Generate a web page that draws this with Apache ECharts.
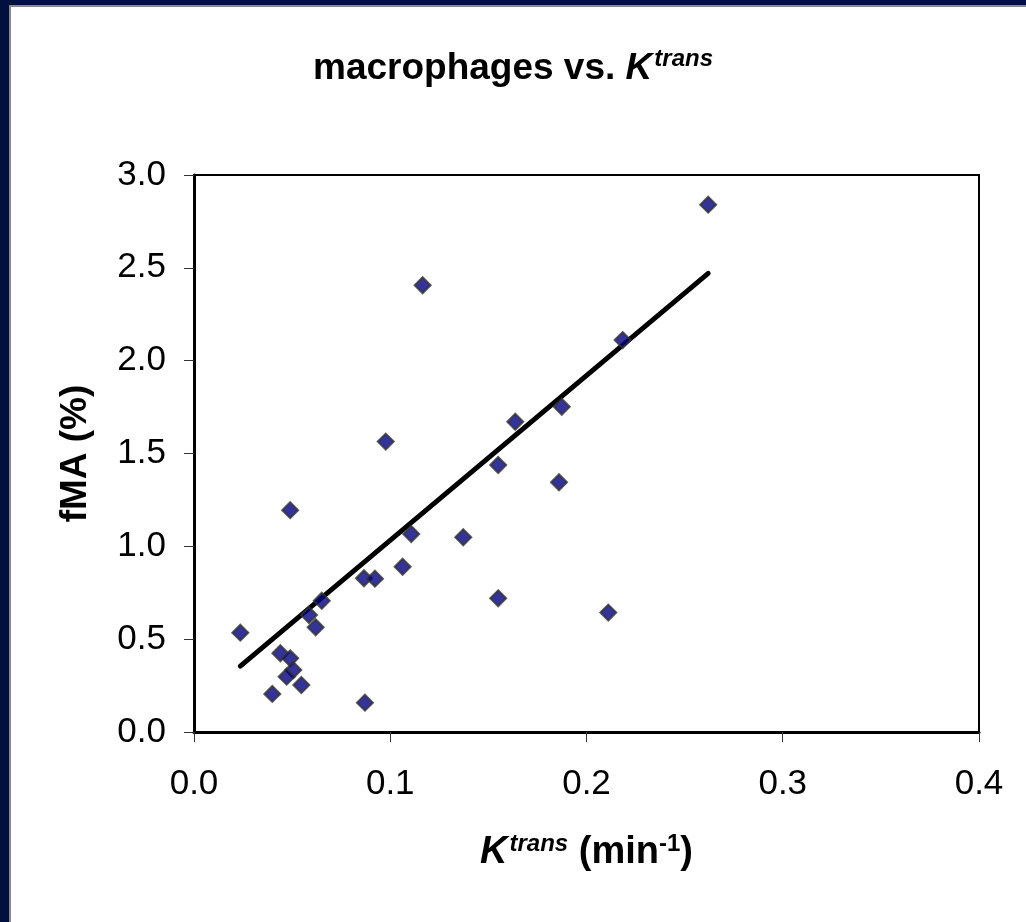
<!DOCTYPE html>
<html>
<head>
<meta charset="utf-8">
<script src="https://cdn.jsdelivr.net/npm/echarts@6/dist/echarts.min.js"></script>
<style>
html,body{margin:0;padding:0;width:1026px;height:922px;overflow:hidden;background:#00113f;}
#frame{position:absolute;left:9px;top:5px;width:1017px;height:917px;background:#fff;border-left:2px solid #8a8a8a;border-top:2px solid #8a8a8a;box-sizing:border-box;}
#chart{position:absolute;left:0;top:0;width:1026px;height:922px;}
</style>
</head>
<body>
<div id="frame"></div>
<div id="chart"></div>
<script>
// K-trans values (min^-1)
const ktrans = [0.0236, 0.044, 0.049, 0.0506, 0.0472, 0.0399, 0.0547, 0.0871, 0.062, 0.0586, 0.0651, 0.0866, 0.0922, 0.1063, 0.1107, 0.049, 0.1165, 0.2184, 0.0977, 0.1637, 0.1874, 0.155, 0.186, 0.1372, 0.155, 0.2111, 0.262];
// fMA values (%)
const fma = [0.535, 0.424, 0.397, 0.334, 0.298, 0.205, 0.253, 0.158, 0.564, 0.630, 0.707, 0.828, 0.826, 0.890, 1.066, 1.195, 2.406, 2.111, 1.564, 1.671, 1.752, 1.438, 1.345, 1.049, 0.720, 0.643, 2.840];
// linear trend line end points
const trendX = [0.0236, 0.262];
const trendY = [0.355, 2.47];
const xTicks = [0, 0.1, 0.2, 0.3, 0.4];
const yTicks = [0, 0.5, 1.0, 1.5, 2.0, 2.5, 3.0];

const chart = echarts.init(document.getElementById('chart'), null, {renderer: 'canvas'});
const FONT = 'Liberation Sans, Arial, sans-serif';
const supRich = (size, sup) => ({
  b: {fontFamily: FONT, fontWeight: 'bold', fontSize: size, color: '#000', verticalAlign: 'bottom'},
  k: {fontFamily: FONT, fontWeight: 'bold', fontStyle: 'italic', fontSize: size, color: '#000', verticalAlign: 'bottom'},
  s: {fontFamily: FONT, fontWeight: 'bold', fontStyle: 'italic', fontSize: sup, color: '#000', verticalAlign: 'bottom', padding: [0, 0, Math.round(size * 0.42), 2]},
  s2: {fontFamily: FONT, fontWeight: 'bold', fontSize: sup, color: '#000', verticalAlign: 'bottom', padding: [0, 0, Math.round(size * 0.42), 0]}
});
chart.setOption({
  backgroundColor: 'transparent',
  animation: false,
  title: {
    left: 'center', top: 42,
    text: '{b|macrophages vs. }{k|K}{s|trans}',
    textStyle: {rich: supRich(37, 24)}
  },
  grid: {left: 194, right: 47, top: 175, bottom: 190, show: true, borderColor: '#000', borderWidth: 2, backgroundColor: 'transparent'},
  xAxis: {
    type: 'value', min: 0, max: 0.4, interval: 0.1,
    axisLine: {lineStyle: {color: '#000', width: 3}},
    axisTick: {show: true, length: 10, lineStyle: {color: '#333', width: 1}},
    splitLine: {show: false},
    axisLabel: {fontFamily: FONT, fontSize: 35, color: '#000', margin: 35, formatter: v => v.toFixed(1)},
    name: '{k|K}{s|trans}{b| (min}{s2|-1}{b|)}',
    nameLocation: 'middle', nameGap: 100,
    nameTextStyle: {rich: supRich(38, 24)}
  },
  yAxis: {
    type: 'value', min: 0, max: 3, interval: 0.5,
    axisLine: {show: true, lineStyle: {color: '#000', width: 3}},
    axisTick: {show: true, length: 10, lineStyle: {color: '#333', width: 1}},
    splitLine: {show: false},
    axisLabel: {fontFamily: FONT, fontSize: 35, color: '#000', margin: 28, formatter: v => v.toFixed(1)},
    name: 'fMA (%)', nameLocation: 'middle', nameGap: 100, nameRotate: 90,
    nameTextStyle: {fontFamily: FONT, fontWeight: 'bold', fontSize: 37, color: '#000'}
  },
  series: [
    {
      type: 'line', data: trendX.map((x, i) => [x, trendY[i]]), symbol: 'none', silent: true, z: 2,
      lineStyle: {color: '#000', width: 5, cap: 'round'}
    },
    {
      type: 'scatter', data: ktrans.map((x, i) => [x, fma[i]]), z: 3,
      symbol: 'diamond', symbolSize: 16,
      itemStyle: {color: '#000080', borderColor: '#333', borderWidth: 2}
    }
  ]
});
</script>
</body>
</html>
